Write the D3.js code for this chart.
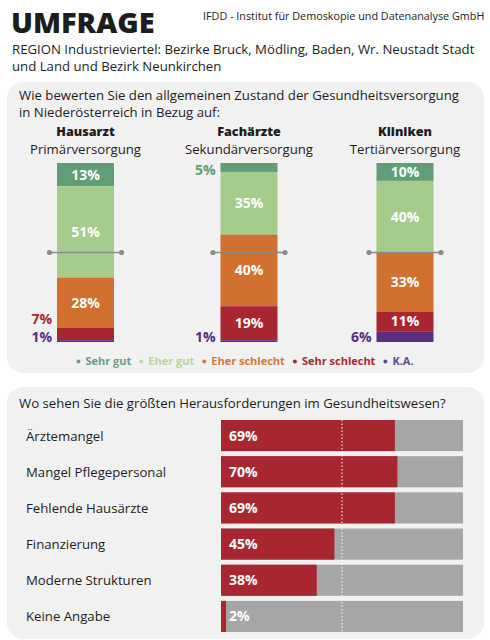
<!DOCTYPE html>
<html>
<head>
<meta charset="UTF-8">
<title>Umfrage Gesundheitsversorgung</title>
<script src="https://d3js.org/d3.v7.min.js"></script>
<style>
  body { margin: 0; background: #fff; }
  svg { display: block; font-family: "Open Sans", "Noto Sans", sans-serif; }
</style>
</head>
<body>
<div id="chart"></div>
<script>
// --- data ---
var categories = ["Hausarzt", "Fachärzte", "Kliniken"];
var subtitles = ["Primärversorgung", "Sekundärversorgung", "Tertiärversorgung"];
var ratingKeys = ["Sehr gut", "Eher gut", "Eher schlecht", "Sehr schlecht", "K.A."];
var sehrGut = [13, 5, 10];
var eherGut = [51, 35, 40];
var eherSchlecht = [28, 40, 33];
var sehrSchlecht = [7, 19, 11];
var keineAngabe = [1, 1, 6];

var challenges = ["Ärztemangel", "Mangel Pflegepersonal", "Fehlende Hausärzte",
                  "Finanzierung", "Moderne Strukturen", "Keine Angabe"];
var challengeValues = [69, 70, 69, 45, 38, 2];

(function (d3) {
  var width = 490, height = 640;
  var textSize = "13.2px";
  var ratingColors = ["#5f9e77", "#a6cc8b", "#d1702f", "#a8262f", "#5b2c84"];
  var legendColors = ["#6b9f82", "#b8d59f", "#d27a3a", "#a42a37", "#5e4a92"];

  var svg = d3.select("#chart").append("svg")
    .attr("width", width).attr("height", height);

  // header
  svg.append("text").attr("x", 11).attr("y", 33)
    .style("font-size", "29px").style("font-weight", 800).style("fill", "#1d1d1d")
    .text("UMFRAGE");
  svg.append("text").attr("x", 203).attr("y", 20)
    .style("font-size", "10.8px").style("fill", "#222")
    .text("IFDD - Institut für Demoskopie und Datenanalyse GmbH");
  svg.append("text").attr("x", 12).attr("y", 54)
    .style("font-size", textSize).style("fill", "#1d1d1d")
    .text("REGION Industrieviertel: Bezirke Bruck, Mödling, Baden, Wr. Neustadt Stadt");
  svg.append("text").attr("x", 12).attr("y", 71)
    .style("font-size", textSize).style("fill", "#1d1d1d")
    .text("und Land und Bezirk Neunkirchen");

  // panels
  svg.append("rect").attr("x", 7).attr("y", 82).attr("width", 477).attr("height", 291)
    .attr("rx", 16).attr("fill", "#f1f1f1");
  svg.append("rect").attr("x", 7).attr("y", 387).attr("width", 477).attr("height", 252)
    .attr("rx", 16).attr("fill", "#f1f1f1");

  // --- panel 1: stacked columns ---
  svg.append("text").attr("x", 19).attr("y", 100)
    .style("font-size", textSize).style("fill", "#1d1d1d")
    .text("Wie bewerten Sie den allgemeinen Zustand der Gesundheitsversorgung");
  svg.append("text").attr("x", 19).attr("y", 117)
    .style("font-size", textSize).style("fill", "#1d1d1d")
    .text("in Niederösterreich in Bezug auf:");

  var series = [sehrGut, eherGut, eherSchlecht, sehrSchlecht, keineAngabe];
  var rows = categories.map(function (c, i) {
    var r = { cat: c };
    ratingKeys.forEach(function (k, j) { r[k] = series[j][i]; });
    return r;
  });
  var stacked = d3.stack().keys(ratingKeys)(rows);

  var xCol = d3.scaleOrdinal().domain(categories).range([85.5, 249, 405]);
  var barW = 57;
  var y = d3.scaleLinear().domain([0, 100]).range([163, 342]);

  var colG = svg.append("g");
  colG.selectAll(".title").data(categories).enter().append("text")
    .attr("x", function (d) { return xCol(d); }).attr("y", 136)
    .attr("text-anchor", "middle")
    .style("font-size", "12.6px").style("font-weight", 800).style("fill", "#1d1d1d")
    .text(function (d) { return d; });
  colG.selectAll(".sub").data(categories).enter().append("text")
    .attr("x", function (d) { return xCol(d); }).attr("y", 154)
    .attr("text-anchor", "middle")
    .style("font-size", textSize).style("fill", "#1d1d1d")
    .text(function (d, i) { return subtitles[i]; });

  var layer = colG.selectAll(".layer").data(stacked).enter().append("g")
    .attr("fill", function (d, i) { return ratingColors[i]; });
  layer.selectAll("rect").data(function (d) { return d; }).enter().append("rect")
    .attr("x", function (d) { return xCol(d.data.cat) - barW / 2; })
    .attr("y", function (d) { return y(d[0]); })
    .attr("width", barW)
    .attr("height", function (d) { return y(d[1]) - y(d[0]); });

  // labels inside large segments
  stacked.forEach(function (s) {
    s.forEach(function (d) {
      var v = d[1] - d[0];
      if (v >= 10) {
        colG.append("text").attr("x", xCol(d.data.cat)).attr("y", (y(d[0]) + y(d[1])) / 2 + 5)
          .attr("text-anchor", "middle")
          .style("font-size", "14px").style("font-weight", 700).style("fill", "#fff")
          .text(v + "%");
      }
    });
  });
  // outside labels (small segments), stacked from the bottom upward
  categories.forEach(function (c, i) {
    var lastY = null;
    for (var j = stacked.length - 1; j >= 0; j--) {
      var d = stacked[j][i];
      var v = d[1] - d[0];
      if (v >= 10) { lastY = null; continue; }
      var ty = (y(d[0]) + y(d[1])) / 2 + 5;
      ty = Math.max(y(0) + 12, Math.min(y(100), ty));
      if (lastY !== null && ty > lastY - 18) ty = lastY - 18;
      lastY = ty;
      colG.append("text").attr("x", xCol(c) - barW / 2 - 5).attr("y", ty)
        .attr("text-anchor", "end")
        .style("font-size", "14px").style("font-weight", 700).style("fill", ratingColors[j])
        .text(v + "%");
    }
  });

  // 50% reference line
  var mid = colG.selectAll(".mid").data(categories).enter().append("g")
    .attr("transform", function (d) { return "translate(" + xCol(d) + "," + y(50) + ")"; });
  mid.append("line").attr("x1", -36).attr("x2", 36)
    .attr("stroke", "#8c8c8c").attr("stroke-width", 1.5);
  mid.selectAll("circle").data([-36, 36]).enter().append("circle")
    .attr("cx", function (d) { return d; }).attr("r", 2.6).attr("fill", "#8c8c8c");

  // legend
  var legend = svg.append("g");
  var lx = 0;
  ratingKeys.forEach(function (k, i) {
    var g = legend.append("g").attr("transform", "translate(" + lx + ",0)");
    g.append("circle").attr("cx", 2).attr("cy", -3.5).attr("r", 2).attr("fill", legendColors[i]);
    var t = g.append("text").attr("x", 9).attr("y", 0)
      .style("font-size", "11px").style("font-weight", 700).style("fill", legendColors[i])
      .text(k);
    lx += 9 + t.node().getComputedTextLength() + 8;
  });
  legend.attr("transform", "translate(" + (245 - (lx - 8) / 2) + ",365)");

  // --- panel 2: horizontal bars ---
  svg.append("text").attr("x", 19).attr("y", 408)
    .style("font-size", textSize).style("fill", "#1d1d1d")
    .text("Wo sehen Sie die größten Herausforderungen im Gesundheitswesen?");

  var x = d3.scaleLinear().domain([0, 100]).range([221, 473]);
  var trackEnd = 463;
  var yb = d3.scaleBand().domain(challenges).range([420, 632]).paddingInner(0.14);

  var barG = svg.append("g");
  barG.selectAll(".lbl").data(challenges).enter().append("text")
    .attr("x", 26).attr("y", function (d) { return yb(d) + yb.bandwidth() / 2 + 5; })
    .style("font-size", textSize).style("fill", "#1d1d1d")
    .text(function (d) { return d; });
  barG.selectAll(".track").data(challenges).enter().append("rect")
    .attr("x", x(0)).attr("y", function (d) { return yb(d); })
    .attr("width", trackEnd - x(0)).attr("height", yb.bandwidth())
    .attr("fill", "#a6a6a6");
  barG.selectAll(".bar").data(challenges).enter().append("rect")
    .attr("x", x(0)).attr("y", function (d) { return yb(d); })
    .attr("width", function (d, i) { return x(challengeValues[i]) - x(0); })
    .attr("height", yb.bandwidth())
    .attr("fill", "#a8262f");
  barG.append("line")
    .attr("x1", (x(0) + trackEnd) / 2).attr("x2", (x(0) + trackEnd) / 2)
    .attr("y1", yb(challenges[0])).attr("y2", yb(challenges[challenges.length - 1]) + yb.bandwidth())
    .attr("stroke", "#fff").attr("stroke-width", 1).attr("stroke-dasharray", "1.5,2");
  barG.selectAll(".val").data(challenges).enter().append("text")
    .attr("x", x(0) + 8).attr("y", function (d) { return yb(d) + yb.bandwidth() / 2 + 5; })
    .style("font-size", "14px").style("font-weight", 700).style("fill", "#fff")
    .text(function (d, i) { return challengeValues[i] + "%"; });
})(window.d3);
</script>
</body>
</html>
